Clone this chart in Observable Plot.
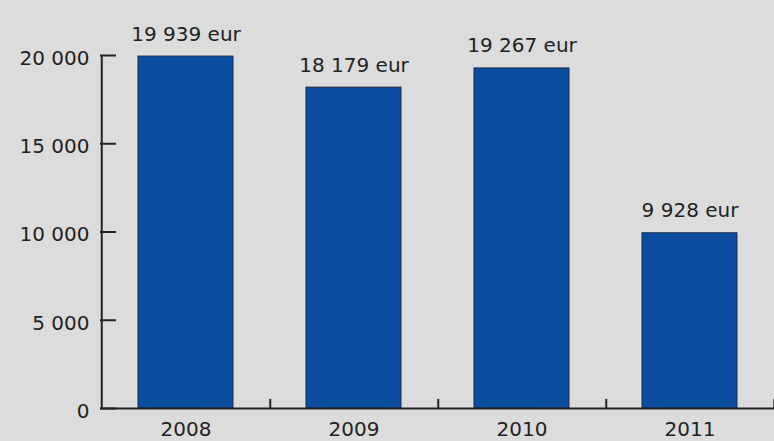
<!DOCTYPE html>
<html>
<head>
<meta charset="utf-8">
<script src="https://cdn.jsdelivr.net/npm/d3@7"></script>
<script src="https://cdn.jsdelivr.net/npm/@observablehq/plot@0.6"></script>
<style>
  html, body { margin: 0; padding: 0; background: #dcdcdc; }
  #chart svg { display: block; }
</style>
</head>
<body>
<div id="chart"></div>
<script>
const years = ["2008", "2009", "2010", "2011"];
const values = [19939, 18179, 19267, 9928];
const yTicks = [0, 5000, 10000, 15000, 20000];
const unit = " eur";

const data = years.map((y, i) => ({year: y, value: values[i]}));
const loc = d3.formatLocale({decimal: ",", thousands: " ", grouping: [3], currency: ["", ""]});
const fmt = loc.format(",d");

const W = 774, H = 441, mL = 100, mR = 0, mT = 55, mB = 33;
const band = (W - mL - mR) / years.length;
const ink = "#222";
const font = "DejaVu Sans, sans-serif";

const chart = Plot.plot({
  width: W, height: H,
  marginLeft: mL, marginRight: mR, marginTop: mT, marginBottom: mB,
  style: {background: "#dcdcdc", fontFamily: font, fontSize: "20px", color: ink},
  x: {domain: years, paddingInner: 0.436, paddingOuter: 0.218, label: null},
  y: {domain: [0, 20000], label: null},
  marks: [
    Plot.barY(data, {x: "year", y: "value", fill: "#0b4da0", stroke: "#1c2b4a", strokeWidth: 1}),
    Plot.text(data, {x: "year", y: "value", text: d => fmt(d.value) + unit, lineAnchor: "bottom", dy: -16, fill: ink, fontSize: 20}),
    Plot.axisY({ticks: yTicks, tickFormat: () => "", tickSize: -16, stroke: ink, strokeWidth: 2}),
    Plot.axisY({ticks: yTicks, tickFormat: fmt, tickSize: 0, tickPadding: 11, fill: ink, fontSize: 20, dy: 3}),
    Plot.axisX({tickSize: 0, tickPadding: 13, fill: ink, fontSize: 20}),
    Plot.ruleX(years, {x: d => d, dx: band / 2, stroke: ink, strokeWidth: 2, insetTop: H - mT - mB - 9}),
    Plot.ruleX([years[0]], {x: d => d, dx: -band / 2, stroke: ink, strokeWidth: 2}),
    Plot.ruleY([0], {stroke: ink, strokeWidth: 2})
  ]
});
document.getElementById("chart").appendChild(chart);
</script>
</body>
</html>
